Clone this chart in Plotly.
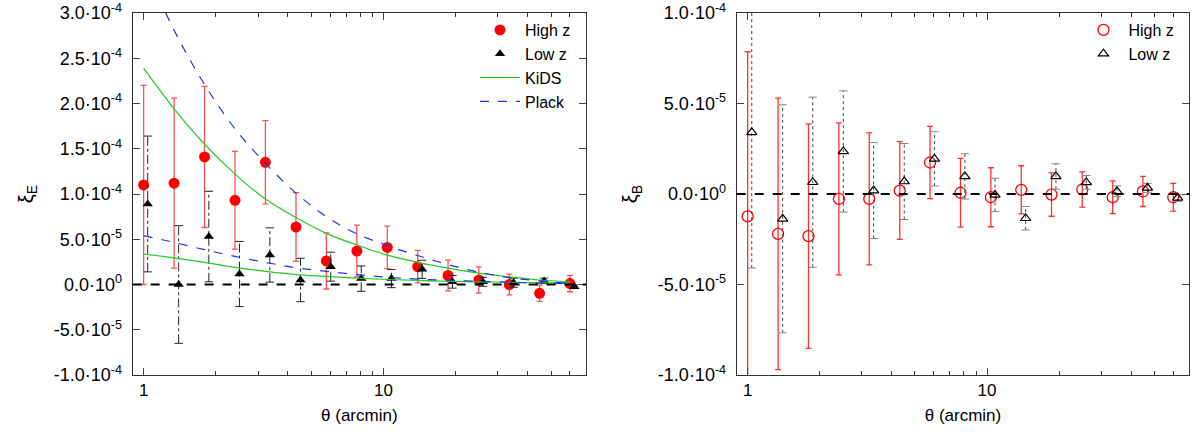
import plotly.graph_objects as go

# angular bins (arcmin); low-z points are drawn slightly shifted
theta = [1.0, 1.34, 1.795, 2.405, 3.22, 4.32, 5.78, 7.75, 10.38, 13.9, 18.6, 25.0, 33.5, 44.8, 60.0]
theta_low = [1.04, 1.40, 1.87, 2.51, 3.36, 4.51, 6.03, 8.08, 10.8, 14.5, 19.4, 26.0, 34.9, 46.8, 62.6]

# E-mode, in units of 1e-4
xiE_high = [1.10, 1.12, 1.41, 0.93, 1.35, 0.635, 0.26, 0.37, 0.41, 0.197, 0.10, 0.05, 0.0, -0.097, 0.01]
errE_high = [1.10, 0.94, 0.78, 0.54, 0.46, 0.38, 0.31, 0.285, 0.235, 0.18, 0.17, 0.145, 0.115, 0.09, 0.09]
xiE_low = [0.89, 0.0, 0.53, 0.116, 0.326, 0.05, 0.197, 0.065, 0.065, 0.168, 0.03, 0.03, 0.02, 0.04, -0.025]
errE_low = [0.75, 0.65, 0.50, 0.36, 0.30, 0.24, 0.16, 0.14, 0.10, 0.10, 0.07, 0.05, 0.05, 0.03, 0.02]

# model curves, in units of 1e-4
kids_high = [2.39, 1.94, 1.55, 1.22, 0.945, 0.74, 0.565, 0.436, 0.325, 0.245, 0.18, 0.125, 0.085, 0.05, 0.03]
kids_low = [0.335, 0.295, 0.245, 0.19, 0.145, 0.11, 0.09, 0.07, 0.055, 0.045, 0.035, 0.03, 0.025, 0.02, 0.015]
planck_high = [3.55, 2.81, 2.21, 1.72, 1.34, 1.01, 0.75, 0.56, 0.43, 0.32, 0.22, 0.135, 0.075, 0.04, 0.01]
planck_low = [0.54, 0.465, 0.385, 0.31, 0.245, 0.185, 0.145, 0.11, 0.08, 0.06, 0.045, 0.035, 0.025, 0.015, 0.01]

# B-mode, in units of 1e-5
xiB_high = [-1.24, -2.2, -2.33, -0.27, -0.27, 0.19, 1.74, 0.07, -0.18, 0.23, -0.03, 0.25, -0.18, 0.14, -0.18]
errB_high = [9.1, 7.5, 6.2, 4.2, 3.65, 2.7, 2.0, 1.9, 1.63, 1.33, 1.2, 0.97, 0.9, 0.83, 0.77]
xiB_low = [3.41, -1.37, 0.65, 2.35, 0.19, 0.69, 1.94, 0.97, -0.05, -1.34, 0.97, 0.64, 0.15, 0.34, -0.21]
errB_low = [7.5, 6.3, 4.7, 3.35, 2.65, 2.1, 1.5, 1.25, 0.92, 0.65, 0.7, 0.38, 0.3, 0.25, 0.2]

yticksE = [3e-4, 2.5e-4, 2e-4, 1.5e-4, 1e-4, 5e-5, 0, -5e-5, -1e-4]
ylabelsE = ["3.0·10<sup>-4</sup>", "2.5·10<sup>-4</sup>", "2.0·10<sup>-4</sup>", "1.5·10<sup>-4</sup>",
            "1.0·10<sup>-4</sup>", "5.0·10<sup>-5</sup>", "0.0·10<sup>0</sup>", "-5.0·10<sup>-5</sup>",
            "-1.0·10<sup>-4</sup>"]
yticksB = [1e-4, 5e-5, 0, -5e-5, -1e-4]
ylabelsB = ["1.0·10<sup>-4</sup>", "5.0·10<sup>-5</sup>", "0.0·10<sup>0</sup>", "-5.0·10<sup>-5</sup>",
            "-1.0·10<sup>-4</sup>"]
xminor = [2, 3, 4, 5, 6, 7, 8, 9, 20, 30, 40, 50, 60, 70]

FONT = "Liberation Sans, Arial, sans-serif"


def scale(vals, s):
    return [v * s for v in vals]


def bar_segments(x, y, err):
    # vertical error-bar segments separated by None
    xs, ys = [], []
    for xi, yi, ei in zip(x, y, err):
        xs += [xi, xi, None]
        ys += [yi - ei, yi + ei, None]
    return xs, ys


def caps(x, y, err):
    xs, ys = [], []
    for xi, yi, ei in zip(x, y, err):
        xs += [xi, xi]
        ys += [yi - ei, yi + ei]
    return xs, ys


fig = go.Figure()

# ---------------- left panel: xi_E ----------------
fig.add_trace(go.Scatter(
    x=theta, y=scale(xiE_high, 1e-4), mode="markers", name="High z",
    marker=dict(color="red", size=11, symbol="circle"),
    error_y=dict(type="data", array=scale(errE_high, 1e-4), color="#ff5050", thickness=1.3, width=3),
    xaxis="x", yaxis="y", legend="legend"))

ex, ey = bar_segments(theta_low, scale(xiE_low, 1e-4), scale(errE_low, 1e-4))
fig.add_trace(go.Scatter(x=ex, y=ey, mode="lines", line=dict(color="#222", width=1, dash="dashdot"),
                         showlegend=False, hoverinfo="skip", xaxis="x", yaxis="y"))
cx, cy = caps(theta_low, scale(xiE_low, 1e-4), scale(errE_low, 1e-4))
fig.add_trace(go.Scatter(x=cx, y=cy, mode="markers", marker=dict(symbol="line-ew", size=6,
                         line=dict(color="#222", width=1)), showlegend=False, hoverinfo="skip",
                         xaxis="x", yaxis="y"))
fig.add_trace(go.Scatter(
    x=theta_low, y=scale(xiE_low, 1e-4), mode="markers", name="Low z",
    marker=dict(color="black", size=9, symbol="triangle-up"),
    xaxis="x", yaxis="y", legend="legend"))

fig.add_trace(go.Scatter(x=theta, y=scale(kids_high, 1e-4), mode="lines", name="KiDS",
                         line=dict(color="#22cc22", width=1.2, shape="spline"),
                         xaxis="x", yaxis="y", legend="legend"))
fig.add_trace(go.Scatter(x=theta, y=scale(kids_low, 1e-4), mode="lines", showlegend=False,
                         line=dict(color="#22cc22", width=1.2, shape="spline"), xaxis="x", yaxis="y"))
fig.add_trace(go.Scatter(x=theta, y=scale(planck_high, 1e-4), mode="lines", name="Plack",
                         line=dict(color="#2233ee", width=1.2, dash="dash", shape="spline"),
                         xaxis="x", yaxis="y", legend="legend"))
fig.add_trace(go.Scatter(x=theta, y=scale(planck_low, 1e-4), mode="lines", showlegend=False,
                         line=dict(color="#2233ee", width=1.2, dash="dash", shape="spline"),
                         xaxis="x", yaxis="y"))

# ---------------- right panel: xi_B ----------------
fig.add_trace(go.Scatter(
    x=theta, y=scale(xiB_high, 1e-5), mode="markers", name="High z",
    marker=dict(color="red", size=11, symbol="circle-open", line=dict(width=1.3)),
    error_y=dict(type="data", array=scale(errB_high, 1e-5), color="#ff3030", thickness=1.3, width=3),
    xaxis="x2", yaxis="y2", legend="legend2"))

ex, ey = bar_segments(theta_low, scale(xiB_low, 1e-5), scale(errB_low, 1e-5))
fig.add_trace(go.Scatter(x=ex, y=ey, mode="lines", line=dict(color="#444", width=1, dash="dot"),
                         showlegend=False, hoverinfo="skip", xaxis="x2", yaxis="y2"))
cx, cy = caps(theta_low, scale(xiB_low, 1e-5), scale(errB_low, 1e-5))
fig.add_trace(go.Scatter(x=cx, y=cy, mode="markers", marker=dict(symbol="line-ew", size=6,
                         line=dict(color="#888", width=1)), showlegend=False, hoverinfo="skip",
                         xaxis="x2", yaxis="y2"))
fig.add_trace(go.Scatter(
    x=theta_low, y=scale(xiB_low, 1e-5), mode="markers", name="Low z",
    marker=dict(color="black", size=9, symbol="triangle-up-open", line=dict(width=1.2)),
    xaxis="x2", yaxis="y2", legend="legend2"))

# zero lines
for xr, yr in (("x domain", "y"), ("x2 domain", "y2")):
    fig.add_shape(type="line", xref=xr, yref=yr, x0=0, x1=1, y0=0, y1=0,
                  line=dict(color="black", width=2, dash="dash"))

xaxis_common = dict(
    type="log", range=[-0.0458, 1.845], tickvals=[1, 10], ticktext=["1", "10"],
    ticks="inside", ticklen=7, showline=True, mirror="ticks", linecolor="#333", linewidth=1,
    showgrid=False, zeroline=False, tickfont=dict(size=17, color="black"),
    minor=dict(tickmode="array", tickvals=xminor, ticks="inside", ticklen=4, tickcolor="#333"),
    title=dict(text="θ (arcmin)", font=dict(size=17, color="black"), standoff=9),
)
yaxis_common = dict(
    ticks="inside", ticklen=7, showline=True, mirror="ticks", linecolor="#333", linewidth=1,
    showgrid=False, zeroline=False, tickfont=dict(size=18, color="black"), ticklabelstandoff=6,
    ticklabeloverflow="allow",
)

fig.update_layout(
    width=1195, height=435,
    margin=dict(l=0, r=0, t=13, b=60),
    paper_bgcolor="white", plot_bgcolor="white",
    font=dict(family=FONT, color="black"),
    xaxis=dict(domain=[0.1110, 0.4904], anchor="y", **xaxis_common),
    xaxis2=dict(domain=[0.6165, 0.9952], anchor="y2", **xaxis_common),
    yaxis=dict(anchor="x", range=[-1e-4, 3e-4], tickvals=yticksE, ticktext=ylabelsE,
               title=dict(text="ξ<sub>E</sub>", font=dict(size=20), standoff=14), **yaxis_common),
    yaxis2=dict(anchor="x2", range=[-1e-4, 1e-4], tickvals=yticksB, ticktext=ylabelsB,
                title=dict(text="ξ<sub>B</sub>", font=dict(size=20), standoff=14), **yaxis_common),
    legend=dict(x=0.482, y=1.0, xanchor="right", yanchor="top", bgcolor="rgba(0,0,0,0)",
                font=dict(size=16), tracegroupgap=0, itemwidth=40),
    legend2=dict(x=0.987, y=1.0, xanchor="right", yanchor="top", bgcolor="rgba(0,0,0,0)",
                 font=dict(size=16), tracegroupgap=0, itemwidth=40),
)

# drop the default 8px page margin so the figure sits at the window corner
fig.write_html("out.html", config={"displayModeBar": False},
               post_script="document.body.style.margin='0';")
